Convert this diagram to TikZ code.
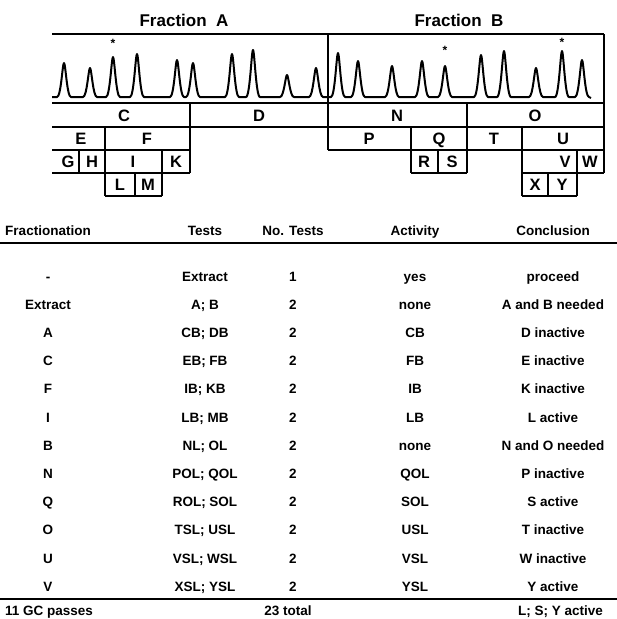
\documentclass[tikz,border=0pt]{standalone}
\usepackage{fontspec}
\setmainfont{Liberation Sans}

\begin{document}
\begin{tikzpicture}[x=1pt,y=-1pt,
        boxline/.style={line width=2pt},
        trace/.style={line width=2pt,line join=round},
        tabrule/.style={line width=2.8pt},
        title/.style={font=\fontsize{17}{17}\selectfont\bfseries,inner sep=0pt,anchor=base},
        lbl/.style={font=\fontsize{16.5}{16.5}\selectfont\bfseries,inner sep=0pt,anchor=base},
        peakmark/.style={font=\fontsize{12}{12}\selectfont\bfseries,inner sep=0pt,anchor=north},
        cell/.style={font=\fontsize{13.5}{13.5}\selectfont\bfseries,inner sep=0pt,anchor=base}]
                \useasboundingbox (0,0) rectangle (617,619);

                \node[title] (fracA) at (184,26) {Fraction\ \ A};
                \node[title] (fracB) at (459,26) {Fraction\ \ B};

                \draw[trace] (52,97) foreach \c/\t in {64/63,90/68,113/57,137/54,177/60,193/63,232/54,253/50,287/75,316/68,
                        338/53,358/61,392/66,422/61,445/66,481/55,504/51,536/68,562/51,582/60}
                    { -- ({\c-7},97) .. controls ({\c-3},97) and ({\c-1.5},\t) .. (\c,\t)
                      .. controls ({\c+1.5},\t) and ({\c+3},97) .. ({\c+7},97) } -- (591,98);
                \node[peakmark] (starA) at (113,39) {*};
                \node[peakmark] (starB) at (445,46) {*};
                \node[peakmark] (starC) at (562,38) {*};

                \draw[boxline] (52,34)--(604,34);
                \draw[boxline] (52,103)--(604,103);
                \draw[boxline] (52,127)--(604,127);
                \draw[boxline] (52,150)--(190,150);
                \draw[boxline] (328,150)--(604,150);
                \draw[boxline] (52,173)--(190,173);
                \draw[boxline] (411,173)--(467,173);
                \draw[boxline] (522,173)--(604,173);
                \draw[boxline] (105,196)--(162,196);
                \draw[boxline] (522,196)--(577,196);

                \draw[boxline] (328,34)--(328,150);
                \draw[boxline] (604,34)--(604,173);
                \draw[boxline] (190,103)--(190,173);
                \draw[boxline] (467,103)--(467,173);
                \draw[boxline] (105,127)--(105,196);
                \draw[boxline] (79,150)--(79,173);
                \draw[boxline] (162,150)--(162,196);
                \draw[boxline] (135,173)--(135,196);
                \draw[boxline] (411,127)--(411,173);
                \draw[boxline] (438,150)--(438,173);
                \draw[boxline] (522,127)--(522,196);
                \draw[boxline] (577,150)--(577,196);
                \draw[boxline] (548,173)--(548,196);

                \node[lbl] (C) at (124,121) {C};
                \node[lbl] (D) at (259,121) {D};
                \node[lbl] (N) at (397,121) {N};
                \node[lbl] (O) at (535,121) {O};
                \node[lbl] (E) at (81,144.5) {E};
                \node[lbl] (F) at (147,144.5) {F};
                \node[lbl] (P) at (369,144.5) {P};
                \node[lbl] (Q) at (439,144.5) {Q};
                \node[lbl] (T) at (494,144.5) {T};
                \node[lbl] (U) at (563,144.5) {U};
                \node[lbl] (G) at (68,167.5) {G};
                \node[lbl] (H) at (92,167.5) {H};
                \node[lbl] (I) at (133,167.5) {I};
                \node[lbl] (K) at (176,167.5) {K};
                \node[lbl] (R) at (424,167.5) {R};
                \node[lbl] (S) at (452,167.5) {S};
                \node[lbl] (V) at (565,167.5) {V};
                \node[lbl] (W) at (590,167.5) {W};
                \node[lbl] (L) at (120,190.5) {L};
                \node[lbl] (M) at (148,190.5) {M};
                \node[lbl] (X) at (535,190.5) {X};
                \node[lbl] (Y) at (562,190.5) {Y};

                \node[cell] (hfrac) at (48,235) {Fractionation};
                \node[cell] (htests) at (205,235) {Tests};
                \node[cell] (hnum) at (293,235) {No. Tests};
                \node[cell] (hact) at (415,235) {Activity};
                \node[cell] (hconc) at (553,235) {Conclusion};
                \draw[tabrule] (0,243)--(617,243);

                \foreach \f/\t/\n/\a/\c [count=\i] in {-/Extract/1/yes/proceed,
                        Extract/A; B/2/none/A and B needed,
                        A/CB; DB/2/CB/D inactive,
                        C/EB; FB/2/FB/E inactive,
                        F/IB; KB/2/IB/K inactive,
                        I/LB; MB/2/LB/L active,
                        B/NL; OL/2/none/N and O needed,
                        N/POL; QOL/2/QOL/P inactive,
                        Q/ROL; SOL/2/SOL/S active,
                        O/TSL; USL/2/USL/T inactive,
                        U/VSL; WSL/2/VSL/W inactive,
                        V/XSL; YSL/2/YSL/Y active}
                    {
                    \node[cell] (frac\i) at (48,{281+(\i-1)*28.2}) {\f};
                    \node[cell] (test\i) at (205,{281+(\i-1)*28.2}) {\t};
                    \node[cell] (num\i) at (293,{281+(\i-1)*28.2}) {\n};
                    \node[cell] (act\i) at (415,{281+(\i-1)*28.2}) {\a};
                    \node[cell] (conc\i) at (553,{281+(\i-1)*28.2}) {\c};
                    }

                \draw[tabrule] (0,599)--(617,599);
                \node[cell,anchor=base west] (passes) at (5,615) {11 GC passes};
                \node[cell] (total) at (288,615) {23 total};
                \node[cell,anchor=base east] (active) at (603,615) {L; S; Y active};
            \end{tikzpicture}
\end{document}
